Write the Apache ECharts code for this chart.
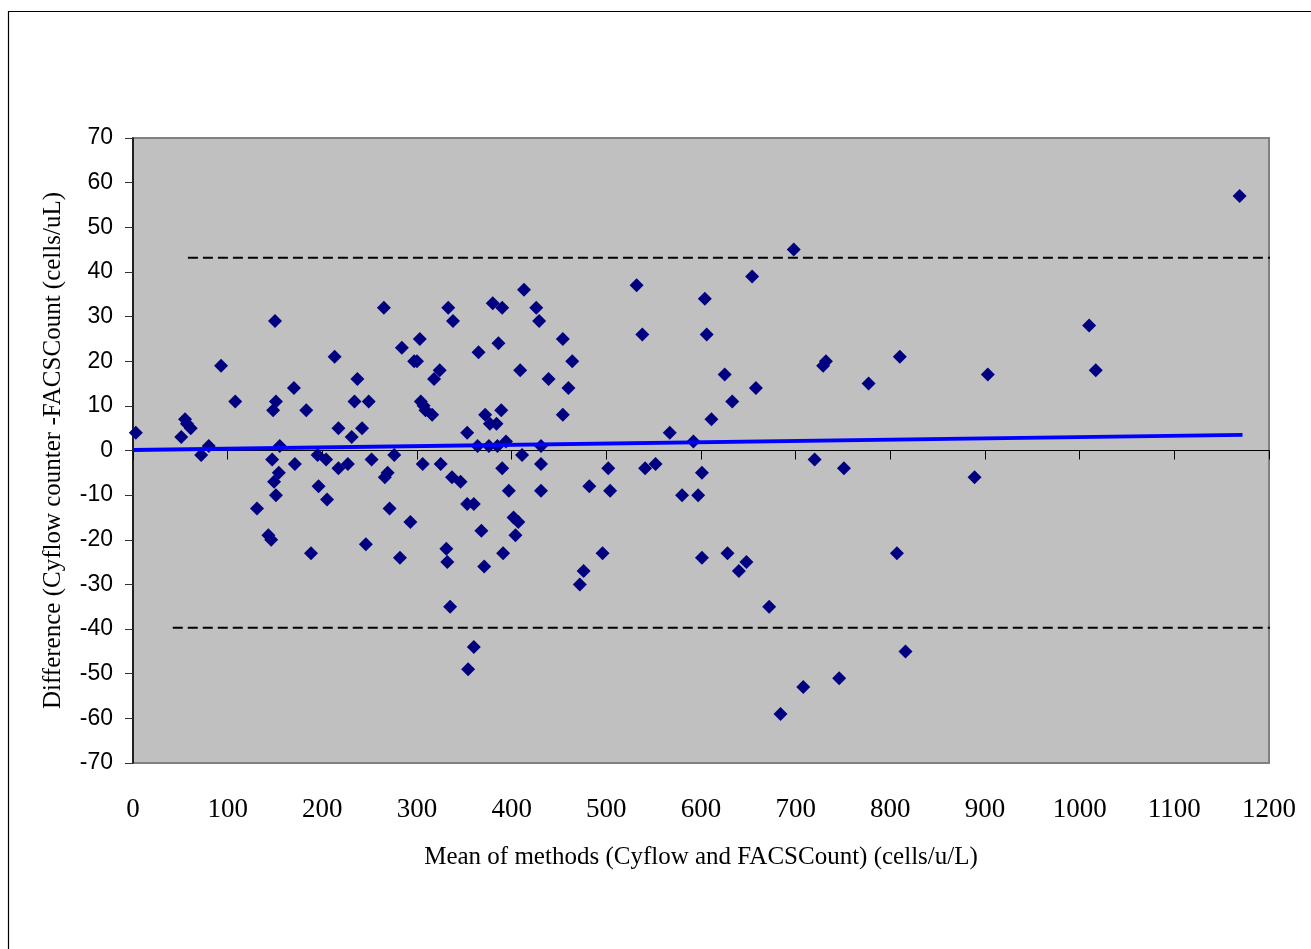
<!DOCTYPE html>
<html>
<head>
<meta charset="utf-8">
<script src="https://cdn.jsdelivr.net/npm/echarts@6/dist/echarts.min.js"></script>
<style>
html,body{margin:0;padding:0;background:#fff;}
#chart{width:1311px;height:949px;}
</style>
</head>
<body>
<div id="chart"></div>
<script>
// Mean of methods (x) and difference (y) for each sample
var meanValues = [3,51,55,57,61,72,80,93,108,131,
  143,146,147,148,150,151,149,151,154,155,
  170,171,183,188,195,196,204,205,213,217,
  217,227,231,234,237,242,246,249,252,265,
  266,269,271,276,282,284,293,297,300,303,
  304,306,307,309,316,318,324,325,331,333,
  332,335,337,338,346,353,354,353,360,360,
  364,365,368,371,372,376,377,380,384,385,
  386,389,390,390,391,394,397,402,404,407,
  409,411,413,426,429,431,431,431,439,454,
  454,460,464,472,476,482,496,502,504,532,
  538,541,552,567,580,592,597,601,601,604,
  606,611,625,628,633,640,648,654,658,672,
  684,698,708,720,729,732,746,751,777,807,
  810,816,889,903,1010,1017,1169];
var diffValues = [4,3,7,6,5,-1,1,19,11,-13,
  -19,-20,-2,9,29,11,-7,-10,-5,1,
  14,-3,9,-23,-1,-8,-2,-11,21,5,
  -4,-3,3,11,16,5,-21,11,-2,32,
  -6,-5,-13,-1,-24,23,-16,20,20,25,
  11,-3,10,9,8,16,18,-3,-22,32,
  -25,-35,-6,29,-7,4,-49,-12,-12,-44,
  1,22,-18,-26,8,1,6,33,6,1,
  24,9,32,-4,-23,2,-9,-15,-19,-16,
  18,-1,36,32,29,1,-3,-9,16,25,
  8,14,20,-30,-27,-8,-23,-4,-9,37,
  26,-4,-3,4,-10,2,-10,-5,-24,34,
  26,7,17,-23,11,-27,-25,39,14,-35,
  -59,45,-53,-2,19,20,-51,-4,15,-23,
  21,-45,-6,17,28,18,57];
// Regression line endpoints
var trendX = [0, 1172];
var trendY = [0.1, 3.5];
// Limits of agreement (dashed lines)
var upperLimitX = [58, 1244];
var upperLimitY = [43.2, 43.2];
var lowerLimitX = [42, 1244];
var lowerLimitY = [-39.7, -39.7];
// Axis ticks
var xTicks = {min: 0, max: 1200, interval: 100};
var yTicks = {min: -70, max: 70, interval: 10};

function zip(a, b) { return a.map(function (v, i) { return [v, b[i]]; }); }

var serif = 'Liberation Serif, Times New Roman, serif';
var chart = echarts.init(document.getElementById('chart'));
chart.setOption({
  animation: false,
  backgroundColor: '#ffffff',
  graphic: [{
    type: 'rect',
    shape: {x: 8.5, y: 11.5, width: 1400, height: 1000},
    style: {fill: 'none', stroke: '#000', lineWidth: 1.2},
    silent: true,
    z: -1
  }],
  grid: {
    left: 133, top: 138, right: 42, bottom: 186,
    containLabel: false,
    outerBoundsMode: 'none',
    show: true,
    backgroundColor: '#C0C0C0',
    borderColor: '#808080',
    borderWidth: 2
  },
  xAxis: [
    {
      type: 'value',
      position: 'bottom',
      min: xTicks.min, max: xTicks.max, interval: xTicks.interval,
      name: 'Mean of methods (Cyflow and FACSCount) (cells/u/L)',
      nameLocation: 'middle',
      nameGap: 82,
      nameMoveOverlap: false,
      nameTextStyle: {fontFamily: serif, fontSize: 25, color: '#000'},
      axisLine: {show: false, onZero: false},
      axisTick: {show: false},
      axisLabel: {margin: 33, fontFamily: serif, fontSize: 27, color: '#000',
        formatter: function (v) { return String(v); }},
      splitLine: {show: false}
    },
    {
      type: 'value',
      position: 'top',
      min: xTicks.min, max: xTicks.max, interval: xTicks.interval,
      axisLine: {show: true, onZero: true, onZeroAxisIndex: 0, lineStyle: {color: '#000', width: 1.2}},
      axisTick: {show: true, inside: true, length: 9, lineStyle: {color: '#000'}},
      axisLabel: {show: false},
      splitLine: {show: false}
    }
  ],
  yAxis: {
    type: 'value',
    min: yTicks.min, max: yTicks.max, interval: yTicks.interval,
    name: 'Difference (Cyflow counter -FACSCount (cells/uL)',
    nameLocation: 'middle',
    nameRotate: 90,
    nameGap: 67,
    nameMoveOverlap: false,
    nameTextStyle: {fontFamily: serif, fontSize: 25, color: '#000'},
    axisLine: {show: true, onZero: false, lineStyle: {color: '#000', width: 1.5}},
    axisTick: {show: true, inside: false, length: 8, lineStyle: {color: '#333'}},
    axisLabel: {margin: 20, fontFamily: 'Liberation Sans, Arial, sans-serif', fontSize: 23, color: '#000'},
    splitLine: {show: false}
  },
  series: [
    {
      type: 'scatter',
      data: zip(meanValues, diffValues),
      symbol: 'diamond',
      symbolSize: 14,
      itemStyle: {color: '#000080', opacity: 1},
      z: 3
    },
    {
      type: 'line',
      data: zip(trendX, trendY),
      symbol: 'none',
      lineStyle: {color: '#0000FF', width: 4},
      z: 4
    },
    {
      type: 'line',
      data: zip(upperLimitX, upperLimitY),
      symbol: 'none',
      clip: false,
      lineStyle: {color: '#000', width: 2, type: [10, 5]},
      z: 2
    },
    {
      type: 'line',
      data: zip(lowerLimitX, lowerLimitY),
      symbol: 'none',
      clip: false,
      lineStyle: {color: '#000', width: 2, type: [10, 5]},
      z: 2
    }
  ]
});
</script>
</body>
</html>
